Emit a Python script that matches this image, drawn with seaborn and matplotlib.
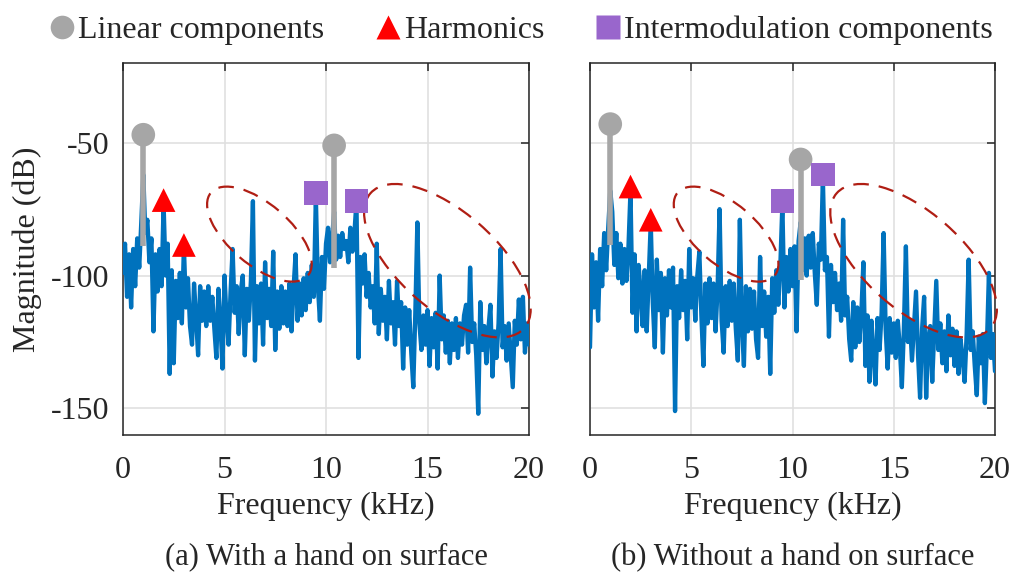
import numpy as np
import pandas as pd
import seaborn as sns
import matplotlib.pyplot as plt
import matplotlib.transforms as mtransforms
from matplotlib.patches import Ellipse
from matplotlib.lines import Line2D

# spectrum magnitudes (dB), one bin every 0.1 kHz from 0 to 20 kHz
mag_hand = [
    -99, -88, -108, -92, -112, -90, -104, -86, -97, -80,
    -62, -84, -79, -95, -86, -121, -92, -106, -90, -104,
    -73, -100, -88, -137, -98, -133, -102, -116, -99, -118,
    -89, -112, -101, -119, -126, -103, -116, -130, -104, -117,
    -106, -119, -104, -117, -108, -120, -131, -105, -118, -135,
    -100, -116, -126, -106, -90, -114, -104, -122, -106, -100,
    -130, -105, -117, -102, -72, -132, -104, -118, -103, -126,
    -95, -116, -105, -119, -91, -128, -106, -120, -104, -118,
    -106, -119, -103, -121, -105, -92, -117, -103, -115, -101,
    -113, -99, -110, -96, -108, -70, -104, -117, -93, -105,
    -88, -82, -95, -86, -76, -94, -85, -93, -84, -90,
    -87, -95, -82, -91, -84, -72, -131, -93, -103, -92,
    -108, -99, -112, -104, -118, -88, -122, -105, -117, -108,
    -124, -102, -118, -110, -126, -102, -119, -110, -135, -112,
    -126, -113, -129, -142, -114, -80, -118, -128, -115, -126,
    -113, -134, -116, -127, -114, -135, -100, -124, -115, -129,
    -117, -133, -118, -128, -116, -131, -118, -126, -115, -111,
    -129, -97, -125, -118, -130, -152, -110, -128, -119, -133,
    -120, -111, -138, -121, -131, -118, -90, -127, -119, -132,
    -118, -130, -142, -117, -126, -109, -124, -108, -129, -118,
    -126,
]
mag_nohand = [
    -127, -92, -112, -95, -117, -90, -104, -84, -98, -82,
    -68, -76, -96, -84, -101, -88, -103, -90, -102, -89,
    -68, -114, -92, -121, -96, -106, -119, -98, -121, -100,
    -80, -110, -127, -94, -113, -99, -129, -101, -115, -98,
    -112, -97, -151, -104, -116, -98, -113, -102, -124, -90,
    -112, -101, -117, -100, -91, -115, -134, -103, -118, -101,
    -116, -103, -121, -105, -75, -117, -129, -104, -119, -102,
    -117, -103, -120, -132, -79, -118, -134, -104, -121, -105,
    -120, -106, -124, -131, -93, -119, -106, -123, -108, -137,
    -101, -114, -98, -111, -96, -73, -112, -93, -106, -90,
    -104, -89, -121, -87, -80, -98, -86, -100, -85, -97,
    -84, -99, -111, -88, -94, -63, -98, -93, -123, -96,
    -110, -99, -113, -103, -117, -79, -115, -108, -124, -132,
    -110, -127, -112, -125, -114, -95, -134, -115, -140, -117,
    -130, -141, -116, -128, -114, -84, -120, -135, -116, -129,
    -118, -131, -117, -127, -142, -120, -89, -125, -117, -132,
    -119, -106, -130, -146, -120, -108, -146, -124, -119, -140,
    -121, -102, -128, -118, -133, -121, -136, -115, -130, -120,
    -134, -121, -137, -124, -131, -140, -122, -94, -128, -121,
    -134, -145, -123, -133, -122, -148, -126, -99, -131, -122,
    -136,
]
freq_khz = np.arange(len(mag_hand)) / 10

# highlighted components (kHz, dB)
lin_f = [1.0, 10.4]
lin_hand = [-47, -51]
lin_hand_base = [-89, -97]
lin_nohand = [-43, -56.3]
lin_nohand_base = [-88.5, -101.7]
harm_f = [2.0, 3.0]
harm_hand = [-71.6, -88.5]
harm_nohand = [-66.5, -79]
im_f = [9.5, 11.5]
im_hand = [-69, -72]
im_nohand = [-72, -62]

captions = ["(a) With a hand on surface", "(b) Without a hand on surface"]

BLUE = "#0072BD"
GRAY = "#A6A6A6"
RED = "#FF0000"
PURPLE = "#9966CC"
DARKRED = "#B01E14"

sns.set_style("white")
plt.rcParams["font.family"] = ["Liberation Serif", "DejaVu Serif"]
plt.rcParams["axes.unicode_minus"] = False
FS = 23

fig = plt.figure(figsize=(10.13, 5.76), dpi=100)
ax_a = fig.add_axes([123 / 1013, 141 / 576, 406 / 1013, 372 / 576])
ax_b = fig.add_axes([590 / 1013, 141 / 576, 405 / 1013, 372 / 576])

panels = [
    (ax_a, mag_hand, lin_hand, lin_hand_base, harm_hand, im_hand),
    (ax_b, mag_nohand, lin_nohand, lin_nohand_base, harm_nohand, im_nohand),
]

for i, (ax, mag, lin, lin_base, harm, im) in enumerate(panels):
    df = pd.DataFrame({"freq": freq_khz, "mag": mag})
    sns.lineplot(data=df, x="freq", y="mag", ax=ax, color=BLUE, lw=3.1,
                 estimator=None, sort=False, zorder=3)
    ax.vlines(lin_f, lin_base, lin, color=GRAY, lw=4.0, zorder=4)
    sns.scatterplot(x=lin_f, y=lin, ax=ax, marker="o", s=290, color=GRAY,
                    edgecolor="none", zorder=6)
    sns.scatterplot(x=harm_f, y=harm, ax=ax, marker="^", s=290, color=RED,
                    edgecolor="none", zorder=6)
    sns.scatterplot(x=im_f, y=im, ax=ax, marker="s", s=290, color=PURPLE,
                    edgecolor="none", zorder=6)

    # dashed ellipses, sized in inches, centred in data coordinates
    for cx, cy, w, h, ang in [(6.72, -84.4, 1.276, 0.608, -40.6),
                              (15.98, -94.4, 2.046, 0.972, -41.25)]:
        tr = fig.dpi_scale_trans + mtransforms.ScaledTranslation(cx, cy, ax.transData)
        ax.add_patch(Ellipse((0, 0), w, h, angle=ang, transform=tr, fill=False,
                             ec=DARKRED, lw=1.6, ls=(0, (7, 4.5)), zorder=5,
                             clip_on=False))

    ax.set_xlim(0, 20)
    ax.set_ylim(-160, -20)
    ax.set_xticks([0, 5, 10, 15, 20])
    ax.set_yticks([-150, -100, -50])
    ax.grid(True, color="#E0E0E0", lw=1.2, zorder=0)
    ax.set_axisbelow(True)
    ax.tick_params(direction="in", top=True, right=True, length=6, width=1.1,
                   color="#262626", labelsize=FS)
    ax.tick_params(axis="x", pad=15)
    ax.tick_params(axis="y", pad=10)
    for sp in ax.spines.values():
        sp.set_color("#262626")
        sp.set_linewidth(1.1)
    ax.set_xlabel("Frequency (kHz)", fontsize=FS, labelpad=5)
    ax.text(0.5, -0.33, captions[i], transform=ax.transAxes, ha="center",
            va="center", fontsize=FS - 1)

ax_a.set_ylabel("Magnitude (dB)", fontsize=FS, labelpad=6)
ax_b.set_ylabel("")
ax_b.set_yticklabels([])

handles = [
    Line2D([], [], ls="none", marker="o", ms=17, color=GRAY, mec="none"),
    Line2D([], [], ls="none", marker="^", ms=17, color=RED, mec="none"),
    Line2D([], [], ls="none", marker="s", ms=17, color=PURPLE, mec="none"),
]
fig.legend(handles, ["Linear components", "Harmonics", "Intermodulation components"],
           loc="center", bbox_to_anchor=(0.515, 0.948), ncol=3, frameon=False,
           fontsize=FS, handlelength=0.7, handletextpad=0.15, columnspacing=1.65)

fig.savefig("out.png", dpi=100)
